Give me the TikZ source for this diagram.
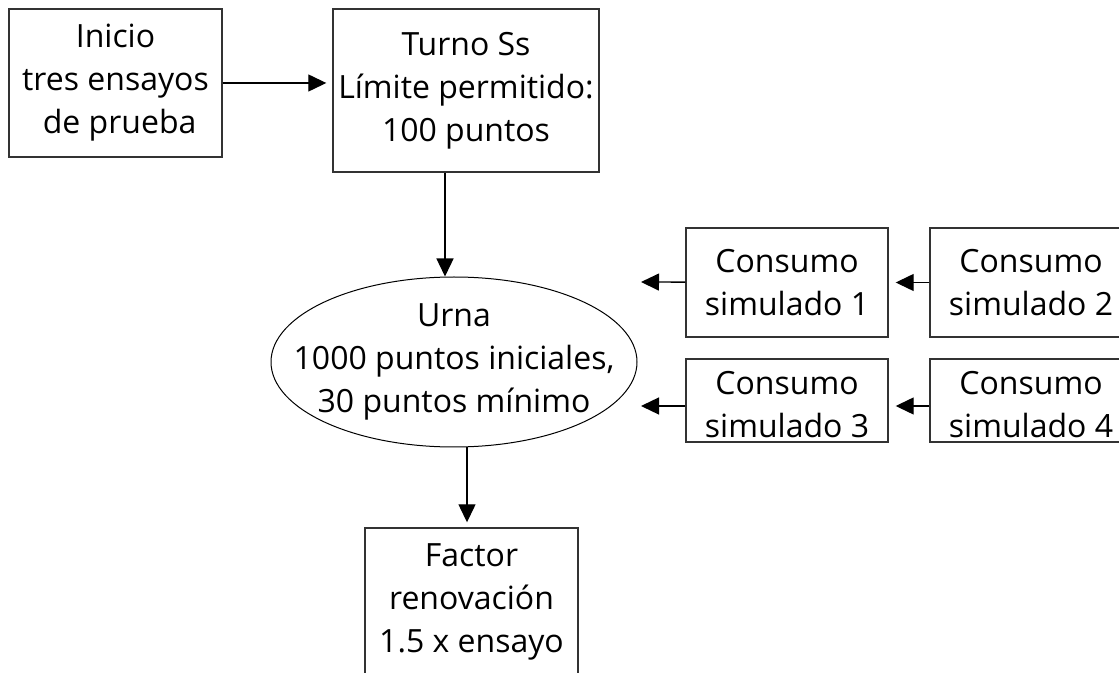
\documentclass[tikz,border=0pt]{standalone}
\usepackage{fontspec}
\setmainfont{Open Sans}
\usetikzlibrary{arrows.meta, shapes.geometric}

\begin{document}
\begin{tikzpicture} [x = 0.5pt, y = -0.5pt,
  caja/.style = {draw = black!80, line width = 0.7pt, inner sep = 0pt, align = center, font = \fontsize{16}{21.5}\selectfont},
  texto/.style = {align = center, font = \fontsize{16}{21.5}\selectfont},
  flecha/.style = {-{Triangle[length = 9pt, width = 8.5pt]}, line width = 0.65pt}]
\path[use as bounding box, clip] (0,0) rectangle (1119,673);
\node[caja, minimum width = 106.5pt, minimum height = 74pt](inicio) at (115.5,83) {Inicio\\tres ensayos\\\ de prueba};
\node[caja, minimum width = 133pt, minimum height = 81.5pt](turno) at (466,90.5) {Turno Ss\\L\'imite permitido:\\100 puntos};
\node[draw, ellipse, line width = 0.5pt, minimum width = 183pt, minimum height = 85pt,
  label = {[texto]center:Urna\\1000 puntos iniciales,\\30 puntos m\'inimo}](urna) at (454,362) {};
\node[caja, minimum width = 106.5pt, minimum height = 74pt](factor) at (471.5,602) {Factor\\renovaci\'on\\1.5 x ensayo};
\node[caja, minimum width = 101pt, minimum height = 54.5pt](c1) at (787,282.5) {Consumo\\simulado 1};
\node[caja, minimum width = 101pt, minimum height = 54.5pt](c2) at (1031,282.5) {Consumo\\simulado 2};
\node[caja, minimum width = 101pt, minimum height = 41.5pt,
  label = {[texto, yshift = -2pt]center:Consumo\\simulado 3}](c3) at (787,400.5) {};
\node[caja, minimum width = 101pt, minimum height = 41.5pt,
  label = {[texto, yshift = -2pt]center:Consumo\\simulado 4}](c4) at (1031,400.5) {};
\coordinate (u1) at (641,282);
\coordinate (u3) at (641,406);
\draw[flecha, shorten > = 3pt] (inicio) -- (turno.west |- inicio);
\draw[flecha] ([xshift = -10.5pt]turno.south) -- ([xshift = -4.5pt]urna.north);
\draw[flecha, shorten > = 2.5pt] ([xshift = 6.5pt]urna.south) -- ([xshift = 6.5pt]urna.south |- factor.north);
\draw[flecha] (c1) -- (u1);
\draw[flecha] (c3.west |- u3) -- (u3);
\draw[flecha, shorten > = 3.5pt] (c2) -- (c1);
\draw[flecha, shorten > = 3.5pt] (c4.west |- u3) -- (c3.east |- u3);
\end{tikzpicture}
\end{document}
